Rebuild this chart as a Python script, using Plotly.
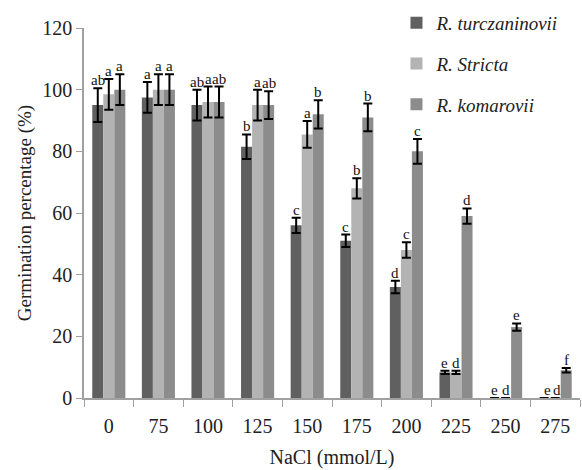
import plotly.graph_objects as go

categories = ["0", "75", "100", "125", "150", "175", "200", "225", "250", "275"]
series_names = ["R. turczaninovii", "R. Stricta", "R. komarovii"]

turcz = [95, 97.5, 95, 81.5, 56, 51, 36, 8.3, 0, 0]
turcz_err = [5.5, 5, 5, 4, 2.5, 2, 2, 0.5, 0, 0]
stricta = [98.5, 100, 96, 95, 85.5, 68, 48, 8.3, 0, 0]
stricta_err = [5, 5, 5, 5, 4.3, 3.3, 2.5, 0.5, 0, 0]
komar = [100, 100, 96, 95, 92, 91, 80, 59, 23, 9]
komar_err = [5, 5, 5, 4.5, 4.6, 4.5, 4, 2.5, 1.2, 0.7]

turcz_letters = ["ab", "a", "ab", "b", "c", "c", "d", "e", "e", "e"]
stricta_letters = ["a", "a", "a", "a", "a", "b", "c", "d", "d", "d"]
komar_letters = ["a", "a", "ab", "ab", "b", "b", "c", "d", "e", "f"]

colors = ["#606060", "#b3b3b3", "#8c8c8c"]
values = [turcz, stricta, komar]
errors = [turcz_err, stricta_err, komar_err]
letters = [turcz_letters, stricta_letters, komar_letters]

serif = "'Liberation Serif', 'Times New Roman', serif"

fig = go.Figure()
for k in range(3):
    fig.add_trace(go.Bar(
        x=categories, y=values[k], name=series_names[k],
        marker=dict(color=colors[k], line=dict(width=0)),
        legendgroup=series_names[k],
        error_y=dict(type="data", array=errors[k], visible=True,
                     color="black", thickness=2, width=4.5),
    ))

bargap = 0.333
bw = (1 - bargap) / 3
offsets = [-bw, 0, bw]
annotations = []
for k in range(3):
    for i, c in enumerate(categories):
        xs = offsets[k]
        if i == 9 and k < 2:
            xs = offsets[k] * 0.55 + (-0.03 if k == 0 else 0.03)
        annotations.append(dict(
            x=i + xs, y=values[k][i] + errors[k][i], xref="x", yref="y",
            text=letters[k][i], showarrow=False, yanchor="bottom",
            yshift=-2, font=dict(family=serif, size=15, color="#111111")))

fig.update_layout(
    width=582, height=470,
    margin=dict(l=84, r=2, t=28, b=72),
    paper_bgcolor="white", plot_bgcolor="white",
    barmode="group", bargap=bargap, bargroupgap=0,
    annotations=annotations,
    font=dict(family=serif, size=20, color="#222222"),
    legend=dict(x=0.63, y=1.065, xanchor="left", yanchor="top",
                font=dict(family=serif, size=19, style="italic", color="#222222"),
                tracegroupgap=13, bgcolor="rgba(0,0,0,0)"),
    xaxis=dict(type="category", showline=True, linecolor="#a0a0a0", linewidth=1.5,
               ticks="outside", ticklen=7, tickcolor="#a0a0a0", tickson="boundaries",
               ticklabelstandoff=9,
               title=dict(text="NaCl (mmol/L)", font=dict(family=serif, size=20), standoff=14),
               tickfont=dict(family=serif, size=20)),
    yaxis=dict(range=[0, 120], dtick=20, showline=True, linecolor="#a0a0a0", linewidth=1.5,
               ticks="outside", ticklen=6, tickcolor="#a0a0a0", showgrid=False,
               zeroline=False,
               title=dict(text="Germination percentage (%)", font=dict(family=serif, size=19), standoff=6),
               tickfont=dict(family=serif, size=20)),
)

fig.write_html("out.html")
